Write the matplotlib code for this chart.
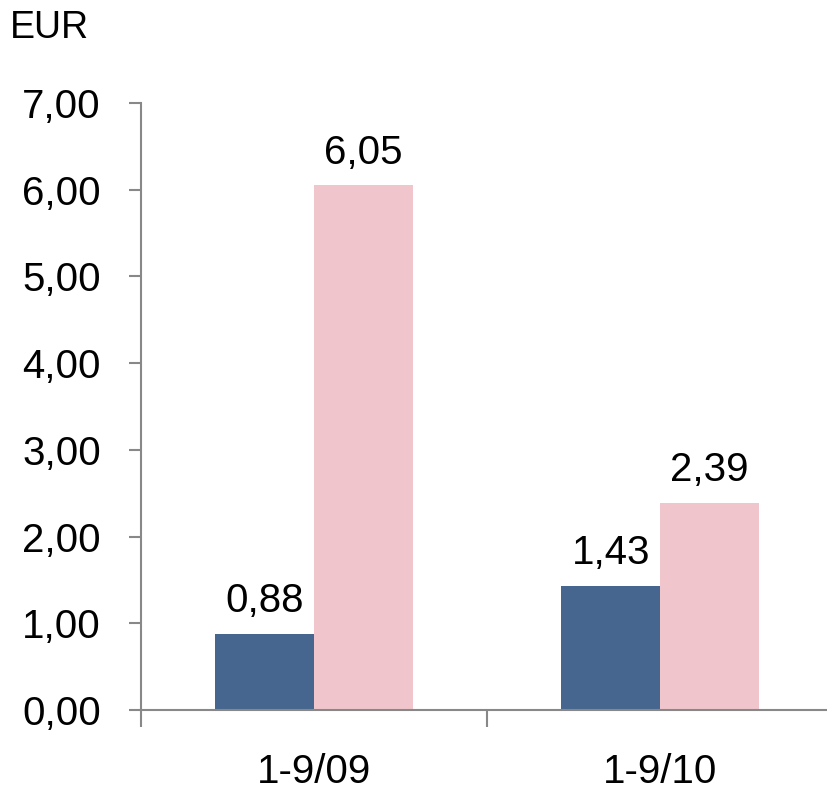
import matplotlib
matplotlib.use("Agg")
import matplotlib.pyplot as plt
import numpy as np

plt.rcParams["font.family"] = ["Liberation Sans", "DejaVu Sans"]

periods = ["1-9/09", "1-9/10"]
series_a = [0.88, 1.43]
series_b = [6.05, 2.39]
yticks = [0, 1, 2, 3, 4, 5, 6, 7]

blue = "#46668f"
pink = "#f0c6cc"
grey = "#888888"


def fmt(v):
    return f"{v:.2f}".replace(".", ",")


fig = plt.figure(figsize=(8.27, 7.91), dpi=100)
ax = fig.add_axes([0.1705, 0.1024, 0.8368, 0.7674])

x = np.arange(len(periods))
w = 0.285
bars_a = ax.bar(x - w / 2, series_a, w, color=blue)
bars_b = ax.bar(x + w / 2, series_b, w, color=pink)

for bars in (bars_a, bars_b):
    for b in bars:
        ax.text(b.get_x() + b.get_width() / 2, b.get_height() + 0.25, fmt(b.get_height()),
                ha="center", va="baseline", fontsize=29)

ax.set_xlim(-0.5, 1.5)
ax.set_ylim(0, 7)
ax.set_yticks(yticks)
ax.set_yticklabels([fmt(v) for v in yticks], fontsize=29)
ax.set_xticks([-0.5, 0.5, 1.5])
ax.set_xticklabels([])
ax.set_xticks(x, minor=True)
ax.set_xticklabels(periods, minor=True, fontsize=29)
ax.tick_params(axis="x", which="minor", length=0, pad=31)
ax.tick_params(axis="x", which="major", length=12, width=1.5, color=grey, direction="out")
ax.tick_params(axis="y", length=9, width=1.5, color=grey, pad=20)

for s in ("top", "right"):
    ax.spines[s].set_visible(False)
for s in ("left", "bottom"):
    ax.spines[s].set_color(grey)
    ax.spines[s].set_linewidth(1.5)

fig.text(10 / 827, 1 - 38 / 791, "EUR", fontsize=27, ha="left", va="baseline")

fig.savefig("out.png", dpi=100)
